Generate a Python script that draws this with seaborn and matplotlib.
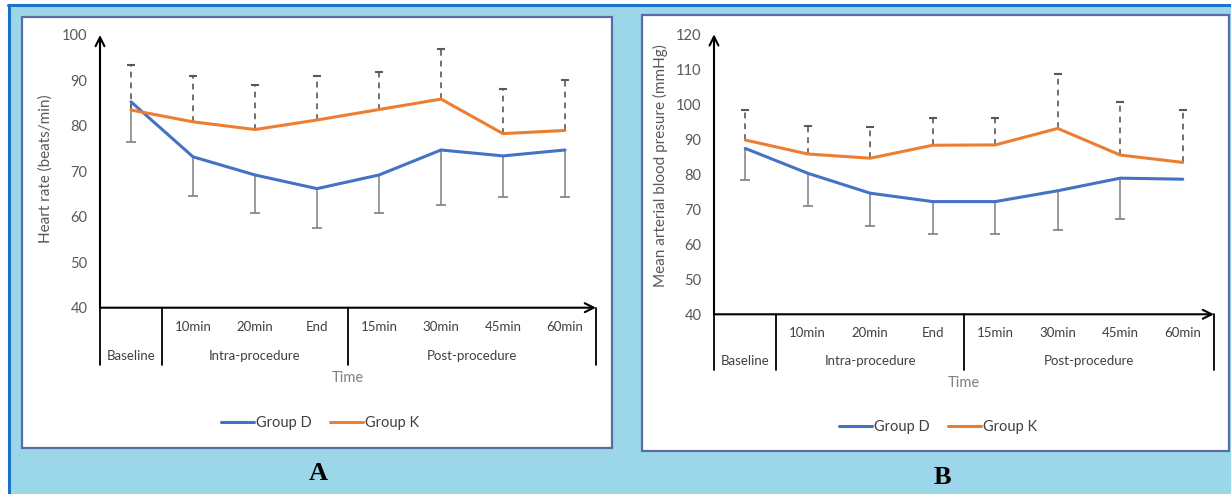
import numpy as np
import pandas as pd
import matplotlib
matplotlib.use('Agg')
import matplotlib.pyplot as plt
import matplotlib.patches as mpatches
import matplotlib.transforms as mtransforms
import matplotlib.patheffects as pe
import seaborn as sns

# data
time_labels = ['', '10min', '20min', 'End', '15min', '30min', '45min', '60min']
phase_labels = ['Baseline', 'Intra-procedure', 'Post-procedure']
phase_centers = [0, 2, 5.5]
phase_edges = [-0.5, 0.5, 3.5, 7.5]

hr_d = [85.3, 73.2, 69.2, 66.2, 69.2, 74.7, 73.4, 74.7]
hr_d_sd = [8.8, 8.7, 8.3, 8.7, 8.3, 12.1, 9.0, 10.3]
hr_k = [83.5, 80.9, 79.2, 81.3, 83.6, 85.9, 78.3, 79.0]
hr_k_sd = [9.8, 10.0, 9.7, 9.7, 8.3, 11.0, 9.8, 11.2]

map_d = [87.4, 80.3, 74.6, 72.2, 72.2, 75.3, 78.9, 78.6]
map_d_sd = [9.0, 9.4, 9.4, 9.2, 9.3, 11.2, 11.8, np.nan]
map_k = [89.8, 85.8, 84.6, 88.3, 88.4, 93.1, 85.5, 83.4]
map_k_sd = [8.6, 8.0, 8.8, 7.7, 7.6, 15.6, 15.1, 15.0]

blue = '#4472C4'
orange = '#ED7D31'
txt = '#404040'

sns.set_style('white')
plt.rcParams['font.family'] = ['Lato', 'DejaVu Sans']

W, H = 1231, 494
fig = plt.figure(figsize=(W / 100, H / 100), dpi=100)
fig.patch.set_facecolor('white')


def fx(px):
    return px / W


def fy(py):
    return (H - py) / H


# outer background and frame
fig.patches.append(mpatches.Rectangle((fx(8), 0), 1, fy(5), transform=fig.transFigure,
                                      facecolor='#9BD7E8', edgecolor='none', zorder=-3))
fig.lines.append(plt.Line2D([fx(9), fx(9)], [0, fy(5)], transform=fig.transFigure,
                            color='#1C72C6', lw=2.2, zorder=-2))
fig.lines.append(plt.Line2D([fx(8), 1], [fy(5), fy(5)], transform=fig.transFigure,
                            color='#1C72C6', lw=2.2, zorder=-2))
# white panel boxes
for x0, y0, x1, y1 in [(22, 17, 612, 448), (642, 15, 1229, 451)]:
    fig.patches.append(mpatches.Rectangle((fx(x0), fy(y1)), fx(x1 - x0), (y1 - y0) / H,
                                          transform=fig.transFigure, facecolor='white',
                                          edgecolor='#5B6BA8', lw=1.6, zorder=-1))


def panel(box, d, d_sd, k, k_sd, ylim, ylabel, ylab_pos, rows, legend_xy, letter_xy, letter):
    left, right, y_bot, y_top = box
    ax = fig.add_axes([fx(left), fy(y_bot), fx(right - left), (y_bot - y_top) / H])
    ax.patch.set_alpha(0)

    pos = np.arange(len(time_labels))
    df = pd.DataFrame({
        'pos': np.concatenate([pos, pos]),
        'value': d + k,
        'group': ['Group D'] * len(pos) + ['Group K'] * len(pos),
    })

    # error bars: D downwards (solid), K upwards (dashed)
    d = np.array(d); k = np.array(k)
    d_sd = np.array(d_sd); k_sd = np.array(k_sd)
    ok = ~np.isnan(d_sd)
    ax.vlines(pos[ok], d[ok] - d_sd[ok], d[ok], color='#7F7F7F', lw=1.1, zorder=1)
    ax.plot(pos[ok], d[ok] - d_sd[ok], marker='_', ms=7, mew=1.2, ls='none', color='#7F7F7F', zorder=1)
    ax.vlines(pos, k, k + k_sd, color='#595959', lw=1.2, linestyles=(0, (3.5, 3)), zorder=1)
    ax.plot(pos, k + k_sd, marker='_', ms=6, mew=1.5, ls='none', color='#595959', zorder=1)

    sns.lineplot(data=df, x='pos', y='value', hue='group', palette=[blue, orange],
                 lw=2.2, ax=ax, zorder=3)
    for ln in ax.lines[-2:]:
        ln.set_path_effects([pe.SimpleLineShadow(offset=(0.5, -1.5), shadow_color='#8090b0', alpha=0.35),
                             pe.Normal()])

    ax.set_xlim(-0.5, 7.5)
    ax.set_ylim(*ylim)
    ax.set_yticks(np.arange(ylim[0], ylim[1] + 1, 10))
    ax.set_xticks([])
    ax.tick_params(axis='y', length=0, pad=9, labelsize=10.5, labelcolor='#595959')
    ax.set_xlabel('')
    ax.set_ylabel(ylabel, fontsize=11, color='#595959')
    ax.yaxis.set_label_coords(*ylab_pos)
    for s in ax.spines.values():
        s.set_visible(False)

    # axes with arrow heads
    ax.annotate('', xy=(1.0, 0), xycoords='axes fraction', xytext=(0, 0),
                arrowprops=dict(arrowstyle='->', lw=1.5, color='black', shrinkA=0, shrinkB=0,
                                mutation_scale=16))
    ax.annotate('', xy=(0, 1.0), xycoords='axes fraction', xytext=(0, 0),
                arrowprops=dict(arrowstyle='->', lw=1.5, color='black', shrinkA=0, shrinkB=0,
                                mutation_scale=16))

    # category table under the axis
    sub_y, grp_y, sep_y, time_y = rows
    tr = mtransforms.blended_transform_factory(ax.transData, fig.transFigure)
    for xe in phase_edges:
        ax.add_line(plt.Line2D([xe, xe], [fy(y_bot), fy(sep_y)], transform=tr, color='black',
                               lw=1.3, clip_on=False))
    for p, lab in zip(pos, time_labels):
        ax.text(p, fy(sub_y), lab, transform=tr, ha='center', va='center', fontsize=9.5, color=txt)
    for c, lab in zip(phase_centers, phase_labels):
        ax.text(c, fy(grp_y), lab, transform=tr, ha='center', va='center', fontsize=9.5, color=txt)
    ax.text(3.5, fy(time_y), 'Time', transform=tr, ha='center', va='center', fontsize=10.5,
            color='#7F7F7F')

    sns.move_legend(ax, 'center', bbox_to_anchor=(fx(legend_xy[0]), fy(legend_xy[1])),
                    bbox_transform=fig.transFigure, ncol=2, frameon=False, title=None,
                    fontsize=10.5, handlelength=2.3, handletextpad=0.15, columnspacing=1.2)
    for t in ax.get_legend().get_texts():
        t.set_color(txt)

    fig.text(fx(letter_xy[0]), fy(letter_xy[1]), letter, ha='center', va='center',
             fontsize=19, fontweight='bold', family='Liberation Serif', color='black')
    return ax


panel((100, 596, 307.7, 35), hr_d, hr_d_sd, hr_k, hr_k_sd, (40, 100),
      'Heart rate (beats/min)', (-0.095, 0.51), (327, 356, 365, 378),
      (320, 423), (318, 473), 'A')
panel((714, 1214, 314.3, 34.3), map_d, map_d_sd, map_k, map_k_sd, (40, 120),
      'Mean arterial blood presure (mmHg)', (-0.092, 0.53), (333, 361, 370, 383),
      (938, 427), (942, 477), 'B')

fig.savefig('out.png', dpi=100)
